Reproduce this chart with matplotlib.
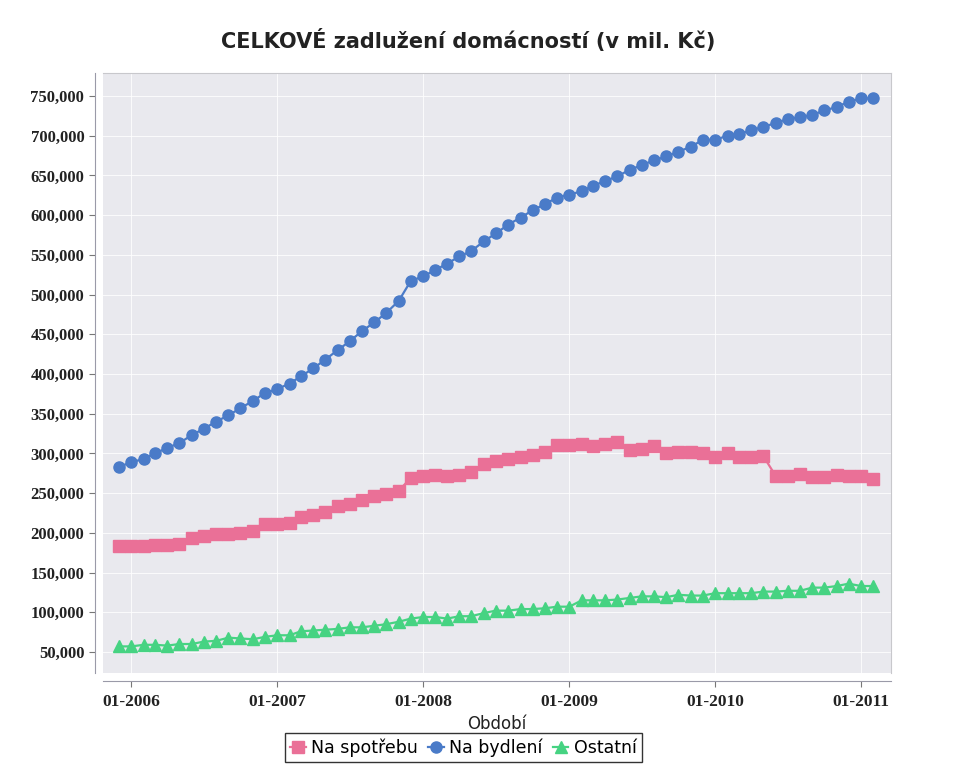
import numpy as np
import pandas as pd
import matplotlib
matplotlib.use("Agg")
import matplotlib.pyplot as plt
import matplotlib.dates as mdates
from matplotlib.ticker import FuncFormatter

# monthly values, 12-2005 .. 02-2011, in thousands of mil. Kc
spotreba = [183, 183, 183, 185, 185, 186, 194, 196, 198, 198, 200, 202,
            211, 211, 213, 220, 223, 226, 234, 236, 241, 246, 249, 253,
            269, 271, 273, 271, 273, 277, 287, 291, 293, 296, 298, 302,
            310, 310, 312, 309, 312, 314, 304, 306, 309, 300, 302, 302,
            300, 296, 301, 295, 295, 297, 272, 272, 274, 270, 270, 273,
            271, 271, 268]
bydleni = [283, 289, 293, 300, 307, 313, 323, 331, 340, 348, 357, 366,
           376, 381, 388, 397, 407, 418, 430, 441, 454, 465, 477, 492,
           517, 523, 531, 539, 548, 555, 567, 577, 588, 597, 606, 614,
           622, 626, 630, 637, 643, 649, 657, 663, 669, 674, 680, 686,
           695, 695, 700, 702, 707, 711, 716, 721, 723, 726, 732, 736,
           743, 747, 747]
ostatni = [57, 57, 59, 59, 58, 60, 60, 63, 64, 68, 67, 66,
           69, 71, 71, 76, 77, 78, 79, 81, 81, 83, 85, 88,
           92, 94, 94, 92, 95, 95, 99, 102, 102, 104, 104, 105,
           107, 107, 115, 115, 115, 116, 118, 120, 120, 119, 122, 121,
           121, 124, 124, 124, 124, 126, 126, 127, 127, 131, 131, 133,
           136, 133, 133]

months = pd.date_range("2005-12-01", periods=len(bydleni), freq="MS")
series_names = ["Na spotřebu", "Na bydlení", "Ostatní"]

fig = plt.figure(figsize=(9.57, 7.71), dpi=100)
ax = fig.add_axes([103 / 957, 1 - 673 / 771, 788 / 957, 600 / 771])
ax.set_facecolor("#e9e9ee")

ax.plot(months, np.array(spotreba) * 1000, color="#ea7097", marker="s",
        markersize=8, linewidth=1.6, label=series_names[0])
ax.plot(months, np.array(bydleni) * 1000, color="#4a7bc8", marker="o",
        markersize=8, linewidth=1.6, label=series_names[1])
ax.plot(months, np.array(ostatni) * 1000, color="#46d382", marker="^",
        markersize=8.5, linewidth=1.6, label=series_names[2])

ax.set_ylim(23500, 779000)
ax.set_xlim(pd.Timestamp("2005-10-22"), pd.Timestamp("2011-03-17"))
ax.set_yticks(np.arange(50000, 750001, 50000))
ax.yaxis.set_major_formatter(FuncFormatter(lambda v, _: f"{v:,.0f}"))
ax.xaxis.set_major_locator(mdates.YearLocator(month=1, day=1))
ax.xaxis.set_major_formatter(mdates.DateFormatter("%m-%Y"))

ax.grid(True, color="white", linewidth=0.8, alpha=0.8)
ax.set_axisbelow(True)

for side in ["top", "right"]:
    ax.spines[side].set_color("#c8c8cc")
for side in ["left", "bottom"]:
    ax.spines[side].set_position(("outward", 6))
    ax.spines[side].set_color("#9a9aa8")
ax.tick_params(axis="both", colors="#777777", length=4, width=0.8,
               labelcolor="#222222")
ax.tick_params(axis="x", pad=5)
for lbl in ax.get_yticklabels():
    lbl.set_family("Liberation Serif")
    lbl.set_fontweight("bold")
    lbl.set_fontsize(12)
for lbl in ax.get_xticklabels():
    lbl.set_family("Liberation Serif")
    lbl.set_fontweight("bold")
    lbl.set_fontsize(12.5)

ax.set_xlabel("Období", fontsize=12, color="#222222", labelpad=4)
fig.suptitle("CELKOVÉ zadlužení domácností (v mil. Kč)", x=0.489, y=0.962,
             fontsize=15, fontweight="bold", color="#222222")

leg = fig.legend(loc="lower center", bbox_to_anchor=(0.484, 0.0), ncol=3,
                 fontsize=12.5, frameon=True, fancybox=False, edgecolor="black",
                 handlelength=0.9, handletextpad=0.3, columnspacing=0.6,
                 borderpad=0.3)
leg.get_frame().set_linewidth(1.0)

fig.savefig("out.png", dpi=100, facecolor="white")
